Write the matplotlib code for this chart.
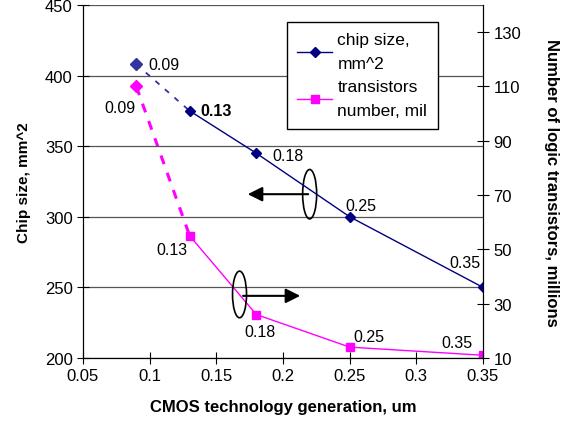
import matplotlib
matplotlib.use('Agg')
import matplotlib.pyplot as plt
from matplotlib.patches import Ellipse
from matplotlib.lines import Line2D

plt.rcParams['font.family'] = ['Liberation Sans', 'DejaVu Sans']
plt.rcParams['font.size'] = 10

# data
gen = [0.09, 0.13, 0.18, 0.25, 0.35]
chip = [408, 375, 345, 300, 250]
trans = [110, 55, 26, 14, 11]
labels = ['0.09', '0.13', '0.18', '0.25', '0.35']

fig = plt.figure(figsize=(5.63, 4.27), dpi=100)
ax = fig.add_axes([0.1474, 0.1593, 0.7105, 0.8267])
ax2 = ax.twinx()

navy = '#000080'
pink = '#FF00FF'

# chip size (left axis)
ax.plot(gen[:2], chip[:2], color='#3333a0', ls=(0, (3, 4)), lw=1.3)
ax.plot(gen[1:], chip[1:], color=navy, lw=1, marker='D', ms=5)
ax.plot(gen[0], chip[0], marker='D', color='#3333a0', ms=6, ls='none')

# transistors (right axis)
ax2.plot(gen[:2], trans[:2], color=pink, ls=(0, (3, 3)), lw=2.2)
ax2.plot(gen[1:], trans[1:], color=pink, lw=1, marker='s', ms=6)
ax2.plot(gen[0], trans[0], marker='D', color=pink, ms=6, ls='none')

ax.set_xlim(0.05, 0.35)
ax.set_ylim(200, 450)
ax2.set_ylim(10, 140)
ax.set_xticks([0.05, 0.1, 0.15, 0.2, 0.25, 0.3, 0.35])
ax.set_xticklabels(['0.05', '0.1', '0.15', '0.2', '0.25', '0.3', '0.35'])
ax.set_yticks([200, 250, 300, 350, 400, 450])
ax2.set_yticks([10, 30, 50, 70, 90, 110, 130])
for a in (ax, ax2):
    a.tick_params(direction='inout', length=8, labelsize=12)
ax.yaxis.grid(True, color='#555555', lw=0.9)
ax.set_axisbelow(True)
ax.spines['top'].set_visible(False)
ax2.spines['top'].set_visible(False)

ax.set_xlabel('CMOS technology generation, um', fontweight='bold', fontsize=12, labelpad=11)
ax.set_ylabel('Chip size, mm^2', fontweight='bold', fontsize=11, labelpad=10)
ax2.set_ylabel('Number of logic transistors, millions', fontweight='bold', fontsize=12,
               rotation=270, labelpad=27)

# point labels (offsets in points, text centred)
chip_off = [(20, 0), (19, 0), (23, -1.5), (8, 8), (-13, 18)]
for x, y, t, (dx, dy) in zip(gen, chip, labels, chip_off):
    ax.annotate(t, (x, y), xytext=(dx, dy), textcoords='offset points',
                fontsize=11.5, va='center', ha='center',
                fontweight='bold' if t == '0.13' else 'normal')
trans_off = [(-12, -15), (-13, -10), (3, -12), (14, 8), (-19, 9)]
for x, y, t, (dx, dy) in zip(gen, trans, labels, trans_off):
    ax2.annotate(t, (x, y), xytext=(dx, dy), textcoords='offset points',
                 fontsize=11.5, va='center', ha='center')

# ellipses with arrows
ax.add_patch(Ellipse((0.220, 316), 0.0105, 35, fill=False, lw=1.2, color='black'))
ax.annotate('', xy=(0.1715, 316), xytext=(0.221, 316),
            arrowprops=dict(arrowstyle='-|>', color='black', lw=1.5, mutation_scale=22))
ax.add_patch(Ellipse((0.1674, 245), 0.0105, 33, fill=False, lw=1.2, color='black'))
ax.annotate('', xy=(0.215, 244), xytext=(0.168, 244),
            arrowprops=dict(arrowstyle='-|>', color='black', lw=1.5, mutation_scale=22))

# legend
h = [Line2D([], [], color=navy, marker='D', ms=5, lw=1),
     Line2D([], [], color=pink, marker='s', ms=6, lw=1)]
leg = ax.legend(h, ['chip size,\nmm^2', 'transistors\nnumber, mil'],
                loc='upper left', bbox_to_anchor=(0.51, 0.952), borderaxespad=0,
                fontsize=12.5, frameon=True, fancybox=False, edgecolor='black',
                framealpha=1, labelspacing=0.45, handlelength=2.0, borderpad=0.6,
                handletextpad=0.3)
for t in leg.get_texts():
    t.set_linespacing(1.75)
leg.get_frame().set_linewidth(1)
ax.set_zorder(ax2.get_zorder() + 1)
ax.patch.set_visible(False)

fig.savefig('out.png', dpi=100)
